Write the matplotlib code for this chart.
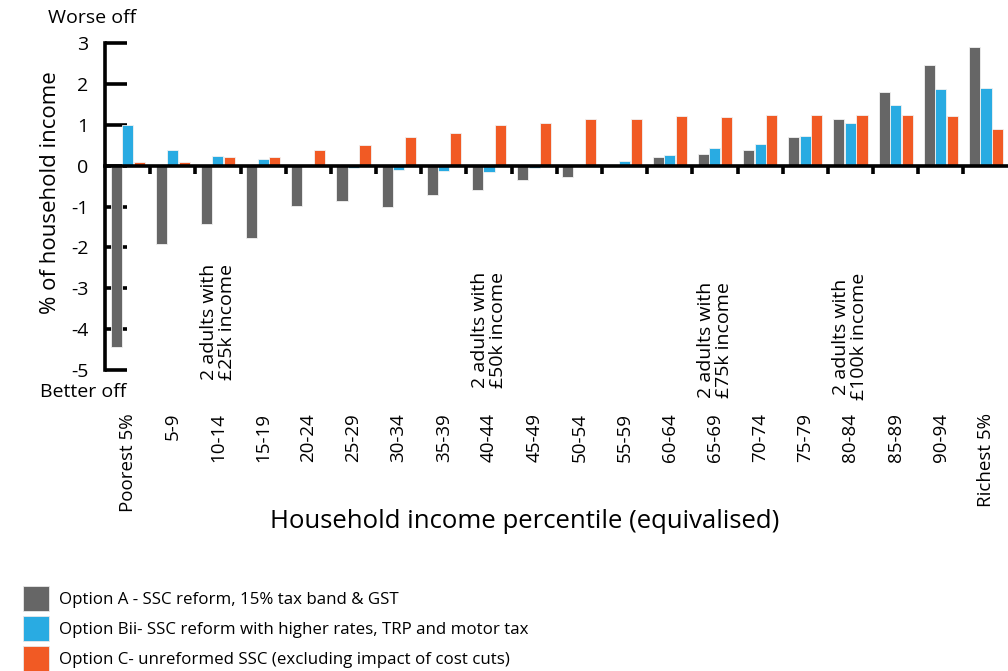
import matplotlib
matplotlib.use("Agg")
import matplotlib.pyplot as plt
from matplotlib.patches import Rectangle
from matplotlib.transforms import blended_transform_factory
import numpy as np

categories = ["Poorest 5%", "5-9", "10-14", "15-19", "20-24", "25-29", "30-34", "35-39",
              "40-44", "45-49", "50-54", "55-59", "60-64", "65-69", "70-74", "75-79",
              "80-84", "85-89", "90-94", "Richest 5%"]

option_a = [-4.44, -1.91, -1.42, -1.76, -0.98, -0.86, -1.00, -0.71, -0.60, -0.36,
            -0.28, 0.00, 0.20, 0.29, 0.38, 0.70, 1.15, 1.81, 2.46, 2.90]
option_bii = [1.00, 0.39, 0.24, 0.15, 0.02, -0.05, -0.10, -0.12, -0.16, -0.06,
              0.02, 0.12, 0.27, 0.42, 0.54, 0.73, 1.04, 1.49, 1.88, 1.91]
option_c = [0.10, 0.10, 0.20, 0.22, 0.39, 0.51, 0.69, 0.80, 0.99, 1.05,
            1.15, 1.15, 1.21, 1.18, 1.25, 1.25, 1.25, 1.25, 1.21, 0.90]

series_labels = ["Option A - SSC reform, 15% tax band & GST",
                 "Option Bii- SSC reform with higher rates, TRP and motor tax",
                 "Option C- unreformed SSC (excluding impact of cost cuts)"]
colors = ["#666666", "#29ABE2", "#F15A24"]

yticks = [3, 2, 1, 0, -1, -2, -3, -4, -5]

annot_labels = ["2 adults with\n£25k income", "2 adults with\n£50k income",
                "2 adults with\n£75k income", "2 adults with\n£100k income"]
annot_groups = [2, 8, 13, 16]
annot_y = [-5.24, -5.44, -5.69, -5.74]

W, H = 1008, 671
fig = plt.figure(figsize=(W / 100, H / 100), dpi=100)
ax = fig.add_axes([105 / W, 1 - 370 / H, (1008.6 - 105) / W, (370 - 43) / H])

n = len(categories)
x = np.arange(n) + 0.5
bw = 0.245
offs = [-0.255, 0.0, 0.255]
for vals, off, col, lab in zip([option_a, option_bii, option_c], offs, colors, series_labels):
    ax.bar(x + off, vals, width=bw, color=col, edgecolor="#f2f2f2", linewidth=0.6,
           label=lab, zorder=2)

ax.set_xlim(0, n)
ax.set_ylim(-5, 3)

for s in ["top", "right"]:
    ax.spines[s].set_visible(False)
ax.spines["left"].set_linewidth(2.6)
ax.spines["bottom"].set_position(("data", 0))
ax.spines["bottom"].set_linewidth(2.6)
ax.spines["bottom"].set_zorder(3)

ax.set_yticks(yticks)
ax.set_yticklabels([str(v) for v in yticks], fontfamily="Open Sans", fontsize=14)
ax.tick_params(axis="y", direction="in", length=16, width=2.6, pad=12)

ax.set_xticks(np.arange(1, n))
ax.set_xticklabels([])
ax.tick_params(axis="x", direction="out", length=5.5, width=2.6)

trans = blended_transform_factory(ax.transData, fig.transFigure)
for xi, lab in zip(x, categories):
    ax.text(xi, 1 - 413 / H, lab, transform=trans, rotation=90, ha="center", va="top",
            fontfamily="Open Sans", fontsize=13.5)

for g, lab, yy in zip(annot_groups, annot_labels, annot_y):
    ax.text(g + 0.5, yy, lab, rotation=90, ha="center", va="bottom", clip_on=False,
            fontfamily="Open Sans", fontsize=14, linespacing=1.0)

fig.text(48 / W, 1 - 18 / H, "Worse off", ha="left", va="center",
         fontfamily="Open Sans", fontsize=14)
fig.text(40 / W, 1 - 392 / H, "Better off", ha="left", va="center",
         fontfamily="Open Sans", fontsize=14)
fig.text(51 / W, 1 - 193 / H, "% of household income", rotation=90, ha="center", va="center",
         fontfamily="Open Sans", fontsize=16)
fig.text(525 / W, 1 - 522 / H, "Household income percentile (equivalised)", ha="center",
         va="center", fontfamily="Open Sans", fontsize=18.5)

# legend (manual, pixel layout)
leg_tops = [586, 616, 646]
for top, col, lab in zip(leg_tops, colors, series_labels):
    fig.add_artist(Rectangle((23 / W, 1 - (top + 25) / H), 26 / W, 25 / H,
                             transform=fig.transFigure, facecolor=col,
                             edgecolor="#e8e8e8", linewidth=0.6))
    fig.text(59 / W, 1 - (top + 14) / H, lab, ha="left", va="center",
             fontfamily="Open Sans", fontsize=12.2)

fig.savefig("out.png", dpi=100)
